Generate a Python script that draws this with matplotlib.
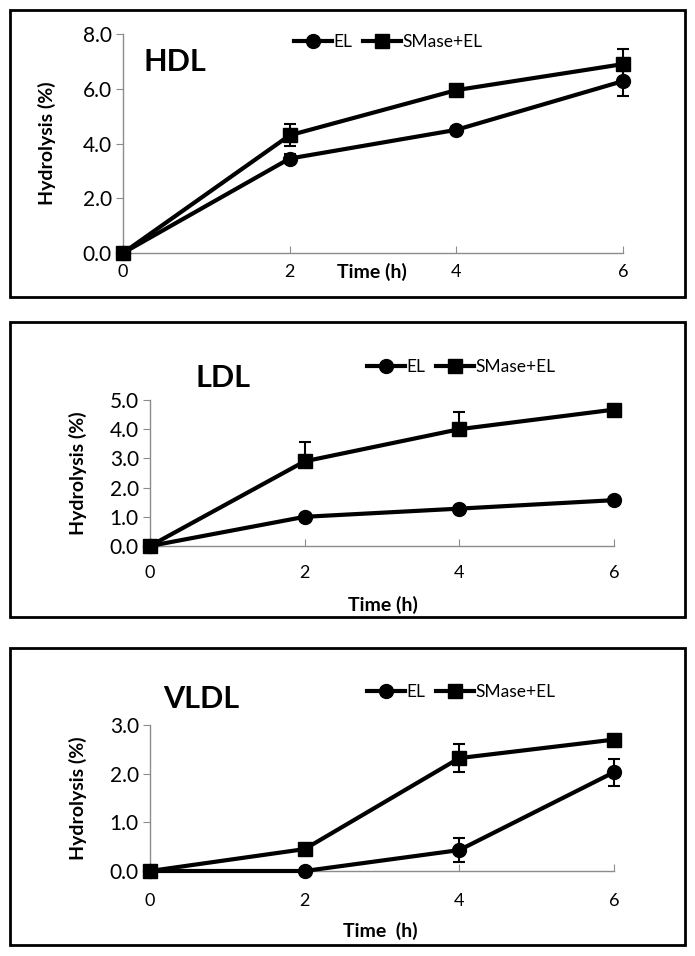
import numpy as np
import matplotlib
matplotlib.use("Agg")
import matplotlib.pyplot as plt
from matplotlib.patches import Rectangle
from matplotlib.lines import Line2D

plt.rcParams['font.family'] = ['Lato', 'DejaVu Sans']

time = [0, 2, 4, 6]
series_names = ['EL', 'SMase+EL']

# HDL
hdl_el = [0, 3.45, 4.5, 6.28]
hdl_el_err = [0, 0.15, 0.1, 0.55]
hdl_sm = [0, 4.3, 5.95, 6.9]
hdl_sm_err = [0, 0.4, 0.2, 0.55]

# LDL (upper error only)
ldl_el = [0, 1.0, 1.28, 1.57]
ldl_el_err = [0, 0.05, 0.05, 0.05]
ldl_sm = [0, 2.9, 4.0, 4.67]
ldl_sm_err = [0, 0.65, 0.6, 0.05]

# VLDL
vldl_el = [0, 0, 0.43, 2.03]
vldl_el_err = [0, 0, 0.25, 0.28]
vldl_sm = [0, 0.45, 2.32, 2.7]
vldl_sm_err = [0, 0.05, 0.28, 0.05]

W, H = 695, 956
fig = plt.figure(figsize=(6.95, 9.56), dpi=100)

def fx(px):
    return px / W

def fy(py):
    return 1 - py / H

# panel boxes
for y0, y1 in [(10, 297), (322, 617), (648, 945)]:
    fig.patches.append(Rectangle((fx(10), fy(y1)), fx(685) - fx(10), fy(y0) - fy(y1),
                                 transform=fig.transFigure, fill=False, lw=2, ec='black'))

def panel(rect, el, el_err, sm, sm_err, ymax, ystep, upper_only, title, title_xy,
          leg_xy, ylab_x, xlab_xy, xlab_text, xpad):
    ax = fig.add_axes(rect)
    lw = 3
    if upper_only:
        e1 = [np.zeros(4), el_err]
        e2 = [np.zeros(4), sm_err]
    else:
        e1 = el_err
        e2 = sm_err
    ax.errorbar(time, el, yerr=e1, color='black', lw=lw, marker='o', ms=10,
                elinewidth=1.5, capsize=4, capthick=1.5, clip_on=False, zorder=3)
    ax.errorbar(time, sm, yerr=e2, color='black', lw=lw, marker='s', ms=10,
                elinewidth=1.5, capsize=4, capthick=1.5, clip_on=False, zorder=3)
    ax.set_xlim(0, 6)
    ax.set_ylim(0, ymax)
    ax.set_xticks(time)
    ax.set_yticks(np.arange(0, ymax + 0.01, ystep))
    ax.set_yticklabels(['%.1f' % v for v in np.arange(0, ymax + 0.01, ystep)])
    for s in ['top', 'right']:
        ax.spines[s].set_visible(False)
    for s in ['left', 'bottom']:
        ax.spines[s].set_color('#8c8c8c')
        ax.spines[s].set_linewidth(1)
    ax.tick_params(axis='x', direction='in', length=5, color='#8c8c8c', labelsize=13, pad=xpad)
    ax.tick_params(axis='y', direction='out', length=5, color='#8c8c8c', labelsize=15, pad=3)
    fig.text(ylab_x, (rect[1] + rect[1] + rect[3]) / 2, 'Hydrolysis (%)', rotation=90,
             ha='center', va='center', fontsize=14, fontweight='bold')
    fig.text(xlab_xy[0], xlab_xy[1], xlab_text, ha='center', va='center',
             fontsize=14, fontweight='bold')
    fig.text(title_xy[0], title_xy[1], title, ha='left', va='center',
             fontsize=22, fontweight='bold')
    handles = [Line2D([], [], color='black', lw=lw, marker='o', ms=10),
               Line2D([], [], color='black', lw=lw, marker='s', ms=10)]
    ax.legend(handles, series_names, loc='center left', bbox_to_anchor=leg_xy,
              bbox_transform=fig.transFigure, ncol=2, frameon=False, fontsize=12.5,
              handlelength=2.2, handletextpad=0.1, columnspacing=0.6, borderpad=0)
    return ax

panel([fx(123), fy(253), fx(623) - fx(123), fy(34) - fy(253)],
      hdl_el, hdl_el_err, hdl_sm, hdl_sm_err, 8, 2, False, 'HDL', (fx(143), fy(62)),
      (fx(285), fy(42)), fx(47), (fx(372), fy(272)), 'Time (h)', 8)

panel([fx(150), fy(546), fx(614) - fx(150), fy(400) - fy(546)],
      ldl_el, ldl_el_err, ldl_sm, ldl_sm_err, 5, 1, True, 'LDL', (fx(196), fy(378)),
      (fx(358), fy(367)), fx(78), (fx(383), fy(605)), 'Time (h)', 14)

panel([fx(150), fy(871), fx(614) - fx(150), fy(725) - fy(871)],
      vldl_el, vldl_el_err, vldl_sm, vldl_sm_err, 3, 1, False, 'VLDL', (fx(163), fy(699)),
      (fx(358), fy(692)), fx(78), (fx(380), fy(931)), 'Time  (h)', 16)

fig.savefig('out.png', dpi=100)
